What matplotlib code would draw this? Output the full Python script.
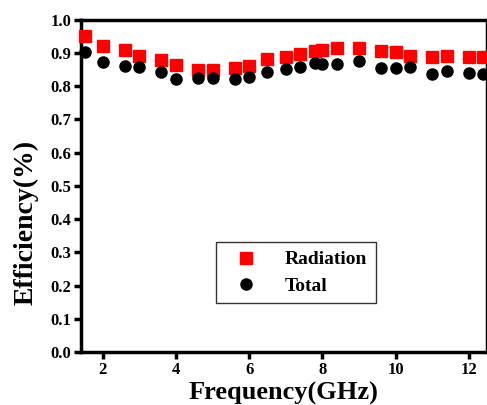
import matplotlib.pyplot as plt

# frequency points (GHz)
freq = [1.5, 2.0, 2.6, 3.0, 3.6, 4.0, 4.6, 5.0, 5.6, 6.0, 6.5, 7.0,
        7.4, 7.8, 8.0, 8.4, 9.0, 9.6, 10.0, 10.4, 11.0, 11.4, 12.0, 12.4]
# radiation efficiency
radiation = [0.950, 0.920, 0.910, 0.892, 0.880, 0.864, 0.849, 0.849,
             0.854, 0.861, 0.883, 0.888, 0.898, 0.907, 0.910, 0.915,
             0.915, 0.905, 0.903, 0.892, 0.888, 0.892, 0.888, 0.888]
# total efficiency
total = [0.902, 0.872, 0.862, 0.857, 0.842, 0.821, 0.826, 0.826,
         0.823, 0.827, 0.844, 0.851, 0.857, 0.870, 0.867, 0.867,
         0.877, 0.854, 0.854, 0.857, 0.837, 0.846, 0.840, 0.837]

plt.rcParams['font.family'] = ['Liberation Serif', 'DejaVu Serif']
plt.rcParams['font.weight'] = 'bold'

fig = plt.figure(figsize=(4.87, 4.05), dpi=100)
ax = fig.add_axes([0.166, 0.131, 0.834, 0.82])

ax.plot(freq, radiation, 's', color='#ff0000', markersize=8, mec='#ff0000',
        label='Radiation', clip_on=False, zorder=3)
ax.plot(freq, total, 'o', color='black', markersize=8, label='Total',
        clip_on=False, zorder=3)

ax.set_xlim(1.4, 12.5)
ax.set_ylim(0.0, 1.0)
ax.set_xticks([2, 4, 6, 8, 10, 12])
ax.set_yticks([i / 10 for i in range(11)])
ax.set_yticklabels(['%.1f' % (i / 10) for i in range(11)])

for s in ax.spines.values():
    s.set_linewidth(2.5)
ax.tick_params(axis='both', direction='out', width=2.5, length=5,
               labelsize=12, pad=2)
for lbl in ax.get_xticklabels() + ax.get_yticklabels():
    lbl.set_fontweight('bold')

ax.set_xlabel('Frequency(GHz)', fontsize=19, fontweight='bold')
ax.xaxis.set_label_coords(0.5, -0.09)
ax.set_ylabel('Efficiency(%)', fontsize=20, fontweight='bold')
ax.yaxis.set_label_coords(-0.103, 0.39)

leg = ax.legend(loc='upper left', bbox_to_anchor=(0.332, 0.331),
                borderaxespad=0, frameon=True, fancybox=False,
                edgecolor='black', handletextpad=0.9, borderpad=0.45,
                labelspacing=0.45, handlelength=2.2,
                prop={'weight': 'bold', 'size': 14})
leg.get_frame().set_linewidth(1.0)

fig.savefig('out.png', dpi=100)
